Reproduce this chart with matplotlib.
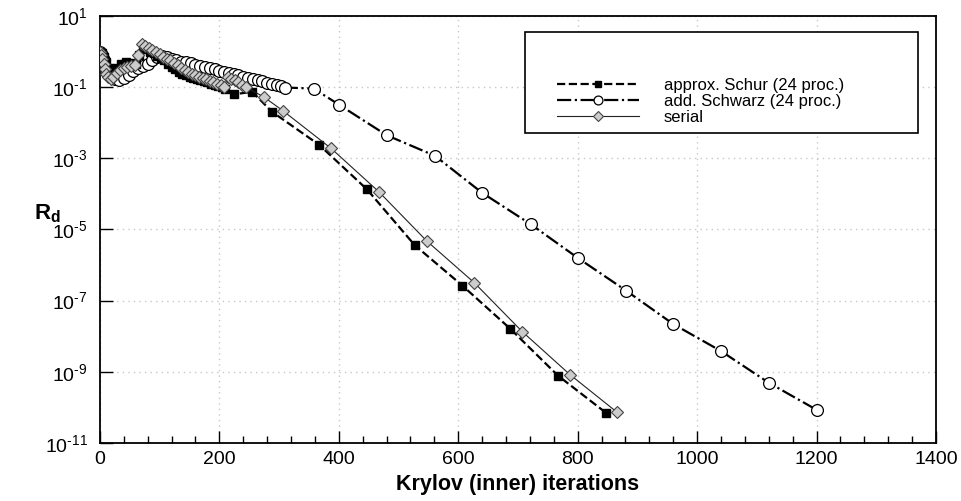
import matplotlib
matplotlib.use("Agg")
import matplotlib.pyplot as plt
from matplotlib.patches import Rectangle
import numpy as np

plt.rcParams['font.family'] = ['Liberation Sans', 'DejaVu Sans']
plt.rcParams['mathtext.fontset'] = 'custom'
plt.rcParams['mathtext.rm'] = 'Liberation Sans'
plt.rcParams['mathtext.bf'] = 'Liberation Sans:bold'

# --- data (log10 of R_d) ---
schur_it = [0, 3, 6, 10, 15, 20, 28, 36, 44, 52, 60, 66, 72, 78, 84, 90, 96, 102,
            108, 114, 120, 126, 132, 138, 144, 150, 156, 162, 168, 174, 180, 186,
            192, 198, 204, 210, 225, 255, 288, 367, 447, 527, 607, 687, 767, 847]
schur_log = [0.0, -0.05, -0.15, -0.3, -0.45, -0.55, -0.45, -0.35, -0.3, -0.32, -0.35,
             -0.1, 0.1, 0.08, 0.0, -0.05, -0.12, -0.18, -0.25, -0.35, -0.42, -0.5,
             -0.58, -0.62, -0.66, -0.7, -0.74, -0.78, -0.8, -0.84, -0.86, -0.9, -0.93,
             -0.96, -1.0, -1.05, -1.2, -1.13, -1.69, -2.62, -3.87, -5.44, -6.58,
             -7.79, -9.11, -10.15]

schwarz_it = [0, 3, 6, 10, 15, 20, 26, 32, 40, 48, 56, 64, 72, 80, 88, 96, 104, 112,
              120, 128, 136, 144, 152, 160, 168, 176, 184, 192, 200, 208, 216, 224,
              232, 240, 248, 256, 264, 272, 280, 288, 296, 304, 310, 358, 401, 480,
              561, 640, 721, 801, 881, 960, 1040, 1120, 1200]
schwarz_log = [0.0, -0.1, -0.25, -0.45, -0.6, -0.72, -0.78, -0.8, -0.75, -0.65, -0.55,
               -0.45, -0.4, -0.35, -0.25, -0.15, -0.12, -0.15, -0.2, -0.24, -0.28, -0.3,
               -0.33, -0.37, -0.4, -0.44, -0.47, -0.5, -0.54, -0.57, -0.6, -0.63, -0.67,
               -0.7, -0.73, -0.77, -0.8, -0.84, -0.87, -0.91, -0.95, -0.98, -1.01,
               -1.04, -1.5, -2.35, -2.93, -3.97, -4.85, -5.81, -6.72, -7.66, -8.42,
               -9.31, -10.07]

serial_it = [0, 2, 4, 6, 8, 10, 14, 18, 22, 28, 34, 40, 46, 52, 58, 64, 70, 76, 82, 88,
             94, 100, 106, 112, 118, 124, 130, 136, 142, 148, 154, 160, 166, 172, 178,
             184, 190, 196, 202, 208, 214, 220, 226, 232, 238, 244, 274, 307, 387, 467,
             547, 627, 707, 787, 866]
serial_log = [0.0, -0.1, -0.2, -0.35, -0.5, -0.62, -0.72, -0.78, -0.7, -0.6, -0.52,
              -0.47, -0.42, -0.4, -0.38, -0.1, 0.2, 0.15, 0.1, 0.05, -0.02, -0.08, -0.15,
              -0.2, -0.25, -0.32, -0.38, -0.45, -0.52, -0.58, -0.62, -0.66, -0.7, -0.74,
              -0.78, -0.82, -0.86, -0.9, -0.95, -1.0, -0.72, -0.76, -0.8, -0.86, -0.93,
              -1.0, -1.27, -1.67, -2.72, -3.94, -5.32, -6.5, -7.87, -9.08, -10.14]

ytick_exp = [-11, -9, -7, -5, -3, -1, 1]

fig = plt.figure(figsize=(9.61, 5.01), dpi=100)
ax = fig.add_axes([0.104, 0.116, 0.870, 0.852])

l2, = ax.semilogy(schwarz_it, 10.0 ** np.array(schwarz_log), ls='-.', lw=1.6, color='black',
                  marker='o', ms=8.5, mfc='white', mec='black', mew=0.9,
                  label='add. Schwarz (24 proc.)', zorder=3)
l1, = ax.semilogy(schur_it, 10.0 ** np.array(schur_log), ls='--', lw=1.6, color='black',
                  marker='s', ms=6.3, mfc='black', mec='black',
                  label='approx. Schur (24 proc.)', zorder=4)
l3, = ax.semilogy(serial_it, 10.0 ** np.array(serial_log), ls='-', lw=0.8, color='#222222',
                  marker='D', ms=6.5, mfc='#cccccc', mec='#444444', mew=0.8,
                  label='serial', zorder=5)

ax.set_xlim(0, 1400)
ax.set_ylim(1e-11, 1e1)
ax.set_xticks(np.arange(0, 1401, 200))
ax.set_xticks(np.arange(0, 1401, 40), minor=True)
ax.set_yticks([10.0 ** k for k in ytick_exp])
ax.set_yticks([], minor=True)
ax.set_yticklabels(['$\\mathregular{10^{%s}}$' % (str(k).replace('-', '\\text{-}'))
                    for k in ytick_exp])
ax.tick_params(axis='both', which='major', direction='in', length=9, width=1,
               labelsize=14, top=False, right=False)
ax.tick_params(axis='x', which='minor', direction='in', length=5, width=1, top=False)
ax.tick_params(axis='x', pad=6)
ax.tick_params(axis='y', pad=9)
ax.grid(True, which='major', ls=(0, (1, 3)), color='#c8c8c8', lw=1)
for s in ax.spines.values():
    s.set_linewidth(1.3)

ax.set_xlabel('Krylov (inner) iterations', fontsize=15.5, fontweight='bold', labelpad=4)
ax.set_ylabel(r'$\mathbf{R_d}$', fontsize=16, rotation=0)
ax.yaxis.set_label_coords(-0.063, 0.51)

ax.add_patch(Rectangle((0.508, 0.726), 0.470, 0.2365, transform=ax.transAxes,
                       facecolor='white', edgecolor='black', lw=1.2, zorder=6))
leg = ax.legend(handles=[l1, l2, l3], loc='lower left', bbox_to_anchor=(0.547, 0.745),
                frameon=False, fontsize=12, handlelength=4.9, handletextpad=1.5,
                labelspacing=0.05, borderpad=0, borderaxespad=0, markerscale=0.75)
leg.set_zorder(7)

fig.savefig('out.png', dpi=100)
